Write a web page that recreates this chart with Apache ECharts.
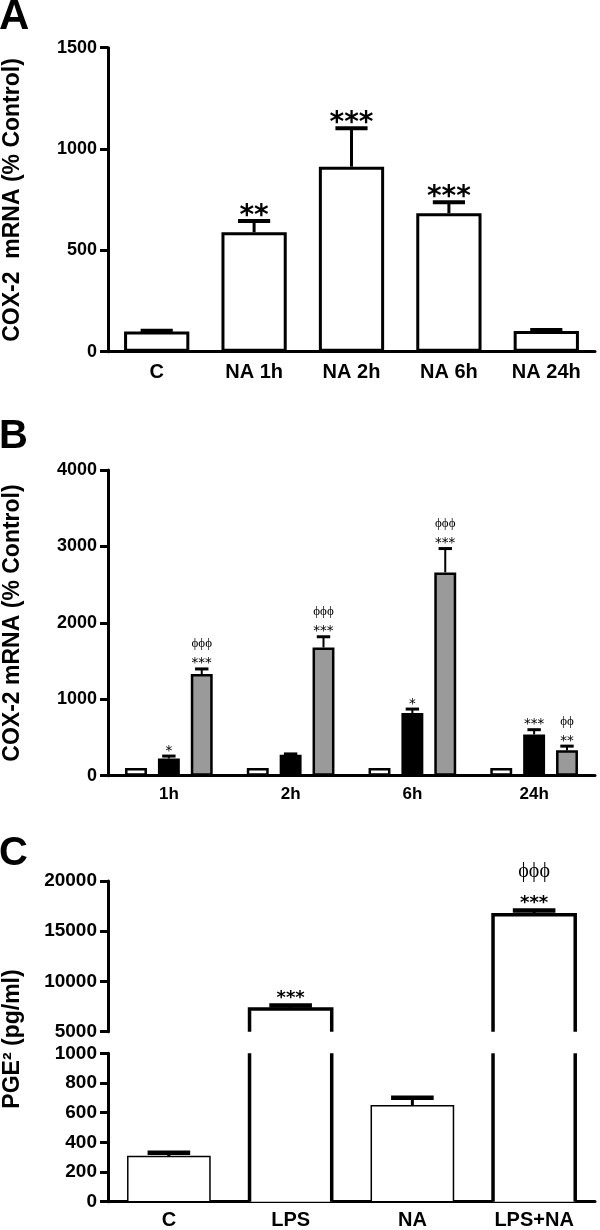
<!DOCTYPE html>
<html><head><meta charset="utf-8">
<script src="https://cdn.jsdelivr.net/npm/echarts@6/dist/echarts.min.js"></script>
<style>html,body{margin:0;padding:0;background:#fff}#c{width:600px;height:1230px}</style>
</head><body><div id="c"></div>
<script>
// ---------- Panel A ----------
const catsA = ['C', 'NA 1h', 'NA 2h', 'NA 6h', 'NA 24h'];
const meanA = [100, 589, 913, 683, 102];
const semA = [3, 56, 190, 54, 5];
const sigA = ['', '**', '***', '***', ''];
const ticksA = [0, 500, 1000, 1500];

// ---------- Panel B ----------
const catsB = ['1h', '2h', '6h', '24h'];
const ctrlB = [100, 100, 100, 100];
const lpsB = [225, 275, 820, 540];
const lpsSemB = [32, 10, 52, 62];
const lpsNaB = [1330, 1678, 2660, 332];
const lpsNaSemB = [67, 140, 312, 55];
const sigLpsB = ['*', '', '*', '***'];
const sigLpsNaB = ['***', '***', '***', '**'];
const phiLpsNaB = ['ϕϕϕ', 'ϕϕϕ', 'ϕϕϕ', 'ϕϕ'];
const ticksB = [0, 1000, 2000, 3000, 4000];

// ---------- Panel C ----------
const catsC = ['C', 'LPS', 'NA', 'LPS+NA'];
const meanC = [305, 7250, 646, 16650];
const semC = [25, 360, 54, 420];
const sigC = ['', '***', '', '***'];
const phiC = ['', '', '', 'ϕϕϕ'];
const ticksCLow = [0, 200, 400, 600, 800, 1000];
const ticksCHigh = [5000, 10000, 15000, 20000];

const SANS = '"Liberation Sans", Arial, sans-serif';
const STAR = '"DejaVu Sans", sans-serif';
const SERIF = '"Liberation Serif", "DejaVu Serif", serif';

function yAx(gridIndex, ticks, fontSize) {
  return {
    type: 'value', gridIndex,
    min: ticks[0], max: ticks[ticks.length - 1], interval: ticks[1] - ticks[0],
    axisLine: { show: true, lineStyle: { color: '#000', width: 3 } },
    axisTick: { show: true, length: 8, lineStyle: { color: '#000', width: 3 } },
    splitLine: { show: false },
    axisLabel: { color: '#000', fontFamily: SANS, fontWeight: 'bold', fontSize, margin: 11, formatter: (v) => String(v) }
  };
}
function xAx(gridIndex, cats, fontSize, margin, show) {
  return {
    type: 'category', gridIndex, data: cats,
    axisLine: { show, lineStyle: { color: '#000', width: 3 } },
    axisTick: { show: false },
    splitLine: { show: false },
    axisLabel: { show, color: '#000', fontFamily: SANS, fontWeight: 'bold', fontSize, margin }
  };
}
function txt(text, x, y, font) {
  return { type: 'text', x, y, style: { text, font, fill: '#000', align: 'center', verticalAlign: 'middle', textAlign: 'center', textVerticalAlign: 'middle' } };
}
function makeErr(o) {
  return function (params, api) {
    const i = params.dataIndex;
    const m = o.mean[i], e = o.sem[i];
    if (o.show && !o.show(m, e)) return null;
    const band = api.size([1, 0])[0];
    const p0 = api.coord([i, m]);
    const x = p0[0] + band * (o.offsetFrac || 0);
    const y0 = p0[1];
    const y1 = api.coord([i, m + e])[1];
    const cw = band * o.capFrac;
    const ch = [];
    if (e > 0) {
      ch.push({ type: 'line', shape: { x1: x, y1: y0, x2: x, y2: y1 }, style: { stroke: '#000', lineWidth: o.stemW } });
      ch.push({ type: 'line', shape: { x1: x - cw / 2, y1: y1, x2: x + cw / 2, y2: y1 }, style: { stroke: '#000', lineWidth: o.capW } });
    }
    if (o.sig && o.sig[i]) ch.push(txt(o.sig[i], x, y1 - o.starGap, (o.starWeight || 'normal') + ' ' + o.starSize + 'px ' + STAR));
    if (o.phi && o.phi[i]) ch.push(txt(o.phi[i], x, y1 - o.phiGap, o.phiSize + 'px ' + SERIF));
    return { type: 'group', children: ch };
  };
}
const lowMax = ticksCLow[ticksCLow.length - 1];
const highMin = ticksCHigh[0];
function makeBrokenBar(ticks, upper) {
  const lo = ticks[0], hi = ticks[ticks.length - 1];
  return function (params, api) {
    const i = params.dataIndex, v = meanC[i];
    if (v <= lo) return null;
    const band = api.size([1, 0])[0], w = band * 0.675;
    const base = api.coord([i, lo]);
    const x = base[0], yb = base[1];
    const yt = api.coord([i, Math.min(v, hi)])[1];
    const xl = x - w / 2, xr = x + w / 2;
    const broken = v > lowMax;
    if (!broken) {
      return { type: 'rect', shape: { x: xl, y: yt, width: w, height: yb - yt }, style: { fill: '#fff', stroke: '#000', lineWidth: 1.5 } };
    }
    const ch = [{ type: 'rect', shape: { x: xl, y: yt, width: w, height: yb - yt }, style: { fill: '#fff' } }];
    if (upper) {
      ch.push({ type: 'polyline', shape: { points: [[xl, yb], [xl, yt], [xr, yt], [xr, yb]] }, style: { stroke: '#000', lineWidth: 3.5, fill: null } });
    } else {
      ch.push({ type: 'line', shape: { x1: xl, y1: yb, x2: xl, y2: yt }, style: { stroke: '#000', lineWidth: 3.5 } });
      ch.push({ type: 'line', shape: { x1: xr, y1: yb, x2: xr, y2: yt }, style: { stroke: '#000', lineWidth: 3.5 } });
    }
    return { type: 'group', children: ch };
  };
}

const gridBase = { left: 108, right: 5, containLabel: false, outerBoundsMode: 'none' };
const option = {
  animation: false,
  backgroundColor: '#fff',
  grid: [
    Object.assign({ top: 47.7, height: 304 }, gridBase),
    Object.assign({ top: 470, height: 305.7 }, gridBase),
    Object.assign({ top: 881, height: 150.7 }, gridBase),
    Object.assign({ top: 1053.3, height: 148.4 }, gridBase)
  ],
  xAxis: [
    xAx(0, catsA, 20, 11, true),
    xAx(1, catsB, 17, 10, true),
    xAx(2, catsC, 20, 9, false),
    xAx(3, catsC, 20, 9, true)
  ],
  yAxis: [
    yAx(0, ticksA, 18),
    yAx(1, ticksB, 18),
    yAx(2, ticksCHigh, 19),
    yAx(3, ticksCLow, 19)
  ],
  series: [
    // Panel A
    { type: 'bar', name: 'COX-2', xAxisIndex: 0, yAxisIndex: 0, data: meanA, barWidth: '67%',
      itemStyle: { color: '#fff', borderColor: '#000', borderWidth: 3 }, silent: true },
    { type: 'custom', xAxisIndex: 0, yAxisIndex: 0, z: 5, silent: true,
      data: meanA.map((v, i) => [i, v]),
      renderItem: makeErr({ mean: meanA, sem: semA, sig: sigA, capFrac: 0.33, stemW: 3, capW: 4, starSize: 28, starWeight: 'bold', starGap: 4.5 }) },
    // Panel B
    { type: 'bar', name: 'Control', xAxisIndex: 1, yAxisIndex: 1, data: ctrlB, barWidth: '18%', barGap: '50%',
      itemStyle: { color: '#fff', borderColor: '#000', borderWidth: 2.5 }, silent: true },
    { type: 'bar', name: 'LPS', xAxisIndex: 1, yAxisIndex: 1, data: lpsB, barWidth: '18%', barGap: '50%',
      itemStyle: { color: '#000', borderColor: '#000', borderWidth: 2.5 }, silent: true },
    { type: 'bar', name: 'LPS+NA', xAxisIndex: 1, yAxisIndex: 1, data: lpsNaB, barWidth: '18%', barGap: '50%',
      itemStyle: { color: '#9a9a9a', borderColor: '#000', borderWidth: 2.5 }, silent: true },
    { type: 'custom', xAxisIndex: 1, yAxisIndex: 1, z: 5, silent: true,
      data: lpsB.map((v, i) => [i, v]),
      renderItem: makeErr({ mean: lpsB, sem: lpsSemB, sig: sigLpsB, offsetFrac: 0, capFrac: 0.11, stemW: 2, capW: 3, starSize: 13.5, starGap: 5 }) },
    { type: 'custom', xAxisIndex: 1, yAxisIndex: 1, z: 5, silent: true,
      data: lpsNaB.map((v, i) => [i, v]),
      renderItem: makeErr({ mean: lpsNaB, sem: lpsNaSemB, sig: sigLpsNaB, phi: phiLpsNaB, offsetFrac: 0.27, capFrac: 0.11, stemW: 2, capW: 3, starSize: 13.5, starGap: 5, phiSize: 13, phiGap: 25 }) },
    // Panel C (broken axis)
    { type: 'custom', xAxisIndex: 2, yAxisIndex: 2, silent: true,
      data: meanC.map((v, i) => [i, v]), renderItem: makeBrokenBar(ticksCHigh, true) },
    { type: 'custom', xAxisIndex: 3, yAxisIndex: 3, silent: true,
      data: meanC.map((v, i) => [i, v]), renderItem: makeBrokenBar(ticksCLow, false) },
    { type: 'custom', xAxisIndex: 2, yAxisIndex: 2, z: 5, silent: true,
      data: meanC.map((v, i) => [i, v]),
      renderItem: makeErr({ mean: meanC, sem: semC, sig: sigC, phi: phiC, capFrac: 0.35, stemW: 3, capW: 4.5, starSize: 18, starWeight: 'bold', starGap: 7.5, phiSize: 20, phiGap: 39,
        show: (m) => m >= highMin }) },
    { type: 'custom', xAxisIndex: 3, yAxisIndex: 3, z: 5, silent: true,
      data: meanC.map((v, i) => [i, v]),
      renderItem: makeErr({ mean: meanC, sem: semC, sig: sigC, phi: phiC, capFrac: 0.35, stemW: 3, capW: 4.5, starSize: 18, starWeight: 'bold', starGap: 7.5, phiSize: 20, phiGap: 39,
        show: (m, e) => m + e <= lowMax }) }
  ],
  graphic: [
    { type: 'text', x: -1, y: 17, style: { text: 'A', font: 'bold 42px ' + SANS, fill: '#000', verticalAlign: 'middle', textVerticalAlign: 'middle' } },
    { type: 'text', x: -1, y: 437, style: { text: 'B', font: 'bold 40px ' + SANS, fill: '#000', verticalAlign: 'middle', textVerticalAlign: 'middle' } },
    { type: 'text', x: -1, y: 854, style: { text: 'C', font: 'bold 40px ' + SANS, fill: '#000', verticalAlign: 'middle', textVerticalAlign: 'middle' } },
    { type: 'text', x: 12.5, y: 200, rotation: Math.PI / 2, style: { text: 'COX-2  mRNA (% Control)', font: 'bold 23px ' + SANS, fill: '#000', align: 'center', verticalAlign: 'middle', textAlign: 'center', textVerticalAlign: 'middle' } },
    { type: 'text', x: 12.5, y: 623, rotation: Math.PI / 2, style: { text: 'COX-2 mRNA (% Control)', font: 'bold 23px ' + SANS, fill: '#000', align: 'center', verticalAlign: 'middle', textAlign: 'center', textVerticalAlign: 'middle' } },
    { type: 'text', x: 12.5, y: 1039, rotation: Math.PI / 2, style: { text: 'PGE² (pg/ml)', font: 'bold 23px ' + SANS, fill: '#000', align: 'center', verticalAlign: 'middle', textAlign: 'center', textVerticalAlign: 'middle' } }
  ]
};
const chart = echarts.init(document.getElementById('c'), null, { renderer: 'canvas' });
chart.setOption(option);
</script></body></html>
